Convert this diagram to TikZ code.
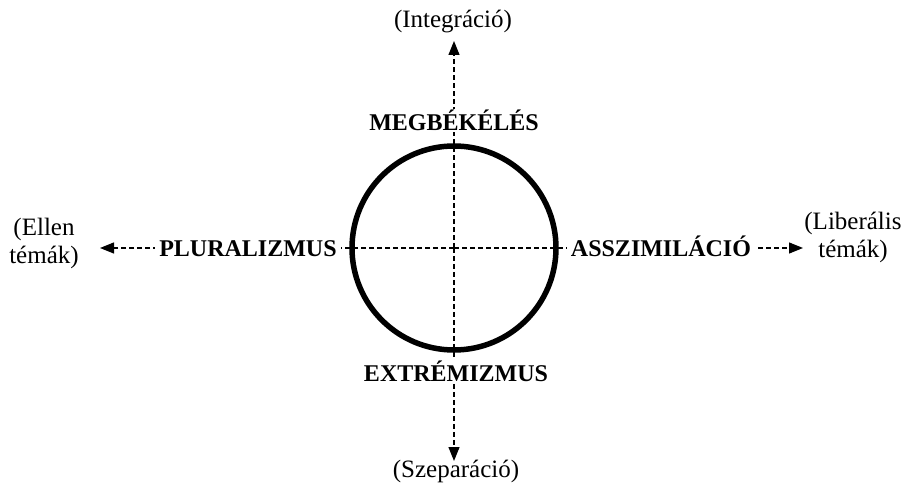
\documentclass[tikz,border=0pt]{standalone}
\usepackage{fontspec}
\setmainfont{Liberation Serif}
\usetikzlibrary{arrows.meta}

\begin{document}
\begin{tikzpicture}[x=1pt,y=-1pt,
  eixo/.style={line width=1.2pt, dash pattern=on 5pt off 3pt,
    -{Triangle[length=14pt,width=11pt]}},
  rotulo/.style={font=\fontsize{24}{28}\selectfont\bfseries,
    fill=white, inner xsep=4pt, inner ysep=1pt, anchor=base},
  polo/.style={font=\fontsize{25}{28}\selectfont,
    inner sep=0pt, anchor=base, align=center}]

% Moldura
\useasboundingbox (0,0) rectangle (911,486);

% CIRCULO
\node[circle, draw, line width=5.5pt, minimum size=204pt, inner sep=0pt]
(roda) at (454,248) {};

% PONTAS DOS EIXOS
\coordinate (pontaN) at (454,41);
\coordinate (pontaS) at (454,461);
\coordinate (pontaO) at (100,248);
\coordinate (pontaL) at (803,248);

% EIXOS
\draw[eixo]
(roda.center)
--
(pontaN);

\draw[eixo]
(roda.center)
--
(pontaS);

\draw[eixo]
(roda.center)
--
(pontaO);

\draw[eixo]
(roda.center)
--
(pontaL);

% ROTULOS
\node[rotulo] (megb) at (454,131) {MEGBÉKÉLÉS};
\node[rotulo] (extr) at (456,382) {EXTRÉMIZMUS};
\node[rotulo] (plur) at (248,257) {PLURALIZMUS};
\node[rotulo] (asszim) at (661,257) {ASSZIMILÁCIÓ};

% POLOS
\node[polo] (integ) at (453,28) {(Integráció)};
\node[polo] (szep) at (456,478) {(Szeparáció)};
\node[polo] (ellen) at (44,264) {(Ellen\\témák)};
\node[polo] (liber) at (853,258) {(Liberális\\témák)};

\end{tikzpicture}
\end{document}
